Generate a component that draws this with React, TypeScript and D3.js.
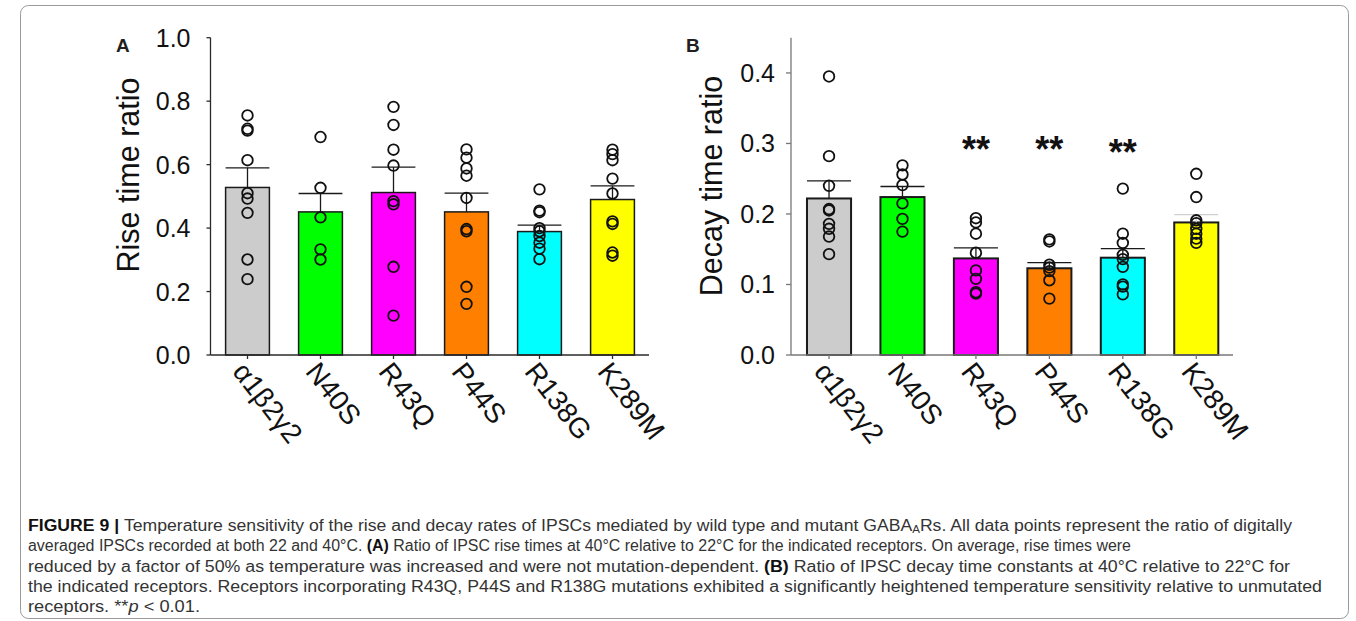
import * as d3 from "d3";

// receptor groups, shared by both panels
const receptors = ["α1β2γ2", "N40S", "R43Q", "P44S", "R138G", "K289M"];
const barColors = ["#cccccc", "#00ff00", "#ff00ff", "#ff8000", "#00ffff", "#ffff00"];

// panel A: rise time ratio (mean, SEM, single cells)
const riseMean = [0.528, 0.451, 0.512, 0.451, 0.389, 0.49];
const riseSem = [0.062, 0.058, 0.08, 0.059, 0.02, 0.043];
const risePoints = [
  [0.755, 0.713, 0.707, 0.614, 0.51, 0.493, 0.448, 0.301, 0.239],
  [0.687, 0.527, 0.434, 0.333, 0.301],
  [0.782, 0.725, 0.647, 0.597, 0.485, 0.475, 0.278, 0.124],
  [0.648, 0.622, 0.588, 0.565, 0.495, 0.397, 0.39, 0.215, 0.161],
  [0.522, 0.455, 0.45, 0.4, 0.39, 0.375, 0.354, 0.335, 0.302],
  [0.647, 0.633, 0.614, 0.556, 0.509, 0.421, 0.413, 0.323, 0.313],
];
const riseTicks = [0, 0.2, 0.4, 0.6, 0.8, 1.0];

// panel B: decay time ratio
const decayMean = [0.222, 0.224, 0.137, 0.123, 0.138, 0.188];
const decaySem = [0.025, 0.015, 0.015, 0.008, 0.013, 0.011];
const decayPoints = [
  [0.395, 0.282, 0.24, 0.207, 0.205, 0.186, 0.179, 0.168, 0.143],
  [0.269, 0.256, 0.241, 0.215, 0.193, 0.175],
  [0.194, 0.188, 0.172, 0.145, 0.12, 0.108, 0.089, 0.087],
  [0.164, 0.161, 0.128, 0.124, 0.119, 0.106, 0.08],
  [0.236, 0.172, 0.159, 0.142, 0.136, 0.125, 0.1, 0.097, 0.086],
  [0.257, 0.224, 0.191, 0.187, 0.179, 0.172, 0.165, 0.159],
];
const decaySig = ["", "", "**", "**", "**", ""];
const decaySigAt = [0, 0, 0.3, 0.3, 0.297, 0];
const decayTicks = [0, 0.1, 0.2, 0.3, 0.4];

const captionLines = [
  [
    { t: "FIGURE 9 | ", b: true },
    { t: "Temperature sensitivity of the rise and decay rates of IPSCs mediated by wild type and mutant GABA" },
    { t: "A", sub: true },
    { t: "Rs. All data points represent the ratio of digitally" },
  ],
  [
    { t: "averaged IPSCs recorded at both 22 and 40°C. " },
    { t: "(A)", b: true },
    { t: " Ratio of IPSC rise times at 40°C relative to 22°C for the indicated receptors. On average, rise times were" },
  ],
  [
    { t: "reduced by a factor of 50% as temperature was increased and were not mutation-dependent. " },
    { t: "(B)", b: true },
    { t: " Ratio of IPSC decay time constants at 40°C relative to 22°C for" },
  ],
  [
    { t: "the indicated receptors. Receptors incorporating R43Q, P44S and R138G mutations exhibited a significantly heightened temperature sensitivity relative to unmutated" },
  ],
  [{ t: "receptors. **" }, { t: "p", i: true }, { t: " < 0.01." }],
];
const captionWidths = [1264, 1103, 1262, 1294, 172];

const FONT = "Liberation Sans, Arimo, Arial, Helvetica, sans-serif";
const INK = "#231f20";

function Panel(props: any) {
  const { letter, means, sems, points, sig, sigAt, ticks, yMax, yLabel, o } = props;
  const x = d3.scaleBand().domain(receptors).range(o.band).paddingInner(0.4).paddingOuter(0.2);
  const y = d3.scaleLinear().domain([0, yMax]).range([355, 37.7]);
  const bw = x.bandwidth();

  return (
    <g>
      <text x={o.letterX} y={52} fontFamily={FONT} fontWeight="bold" fontSize={19} fill={INK}>
        {letter}
      </text>
      <text
        transform={`translate(${o.labelX},${o.labelY}) rotate(-90)`}
        textAnchor="middle"
        dominantBaseline="central"
        fontFamily={FONT}
        fontSize={30.5}
        fill="#111"
      >
        {yLabel}
      </text>

      {receptors.map((r, i) => {
        const x0 = x(r)!;
        const cx = x0 + bw / 2;
        const top = y(means[i]);
        const err = y(means[i] + sems[i]);
        const errColor = i == 5 && o.fadeLast ? "#cfcfcf" : "#1a1a1a";
        return (
          <g key={r}>
            <rect x={x0} y={top} width={bw} height={y(0) - top} fill={barColors[i]} stroke="#1a1a1a" strokeWidth={o.barStroke} />
            <line x1={cx} x2={cx} y1={top} y2={err} stroke={errColor} strokeWidth={1.3} />
            <line x1={x0} x2={x0 + bw} y1={err} y2={err} stroke={errColor} strokeWidth={1.3} />
            {points[i].map((v: number, j: number) => (
              <circle key={j} cx={cx} cy={y(v)} r={5.3} fill="none" stroke="#111" strokeWidth={1.8} />
            ))}
            {sig && sig[i] ? (
              <text x={cx} y={y(sigAt[i]) + 19} textAnchor="middle" fontFamily={FONT} fontWeight="bold" fontSize={36} fill="#111">
                {sig[i]}
              </text>
            ) : null}
          </g>
        );
      })}

      {/* axes */}
      <line x1={o.axisX} x2={o.axisX} y1={y(0)} y2={y(yMax)} stroke={o.axisColor} strokeWidth={1.3} />
      <line x1={o.axisX} x2={o.band[1]} y1={y(0)} y2={y(0)} stroke={o.axisColor} strokeWidth={1.3} />
      {ticks.map((t: number) => (
        <g key={t}>
          <line x1={o.axisX - o.tick} x2={o.axisX} y1={y(t)} y2={y(t)} stroke={o.axisColor} strokeWidth={1.3} />
          <text x={o.axisX - o.labelGap} y={y(t)} textAnchor="end" dominantBaseline="central" fontFamily={FONT} fontSize={25} fill="#111">
            {d3.format(".1f")(t)}
          </text>
        </g>
      ))}
      {receptors.map((r) => {
        const cx = x(r)! + bw / 2;
        return (
          <g key={r}>
            <line x1={cx} x2={cx} y1={y(0)} y2={y(0) + 4} stroke={o.axisColor} strokeWidth={1.3} />
            <text transform={`translate(${cx - 16},372) rotate(52)`} fontFamily={FONT} fontSize={28} fill="#111">
              {r}
            </text>
          </g>
        );
      })}
    </g>
  );
}

export default function App() {
  return (
    <svg width={1356} height={621} style={{ position: "absolute", left: 0, top: 0, background: "#fff" }}>
      <rect x={20.5} y={5.5} width={1328} height={613} rx={8} fill="none" stroke="#9a9a9a" strokeWidth={1} />
      <Panel
        letter="A"
        means={riseMean}
        sems={riseSem}
        points={risePoints}
        ticks={riseTicks}
        yMax={1.0}
        yLabel="Rise time ratio"
        o={{ band: [211, 649], axisX: 210.5, axisColor: "#2a2a2a", tick: 4, labelGap: 20, letterX: 116, labelX: 128, labelY: 175, barStroke: 1.5, fadeLast: false }}
      />
      <Panel
        letter="B"
        means={decayMean}
        sems={decaySem}
        points={decayPoints}
        sig={decaySig}
        sigAt={decaySigAt}
        ticks={decayTicks}
        yMax={0.45}
        yLabel="Decay time ratio"
        o={{ band: [792.3, 1233], axisX: 791, axisColor: "#777", tick: 5, labelGap: 16, letterX: 686, labelX: 711, labelY: 186, barStroke: 2, fadeLast: true }}
      />
      {captionLines.map((line, i) => (
        <text
          key={i}
          x={28}
          y={531 + i * 20.25}
          textLength={captionWidths[i]}
          lengthAdjust="spacingAndGlyphs"
          fontFamily="Liberation Sans Narrow, Liberation Sans, Arimo, sans-serif"
          fontSize={16}
          fill="#333"
        >
          {line.map((s: any, j: number) =>
            s.sub ? (
              <tspan key={j} fontSize={10.5} dy={2}>
                {s.t}
              </tspan>
            ) : (
              <tspan
                key={j}
                dy={j > 0 && line[j - 1].sub ? -2 : 0}
                fontWeight={s.b ? "bold" : "normal"}
                fontStyle={s.i ? "italic" : "normal"}
                fill={s.b ? "#111" : "#333"}
              >
                {s.t}
              </tspan>
            )
          )}
        </text>
      ))}
    </svg>
  );
}
